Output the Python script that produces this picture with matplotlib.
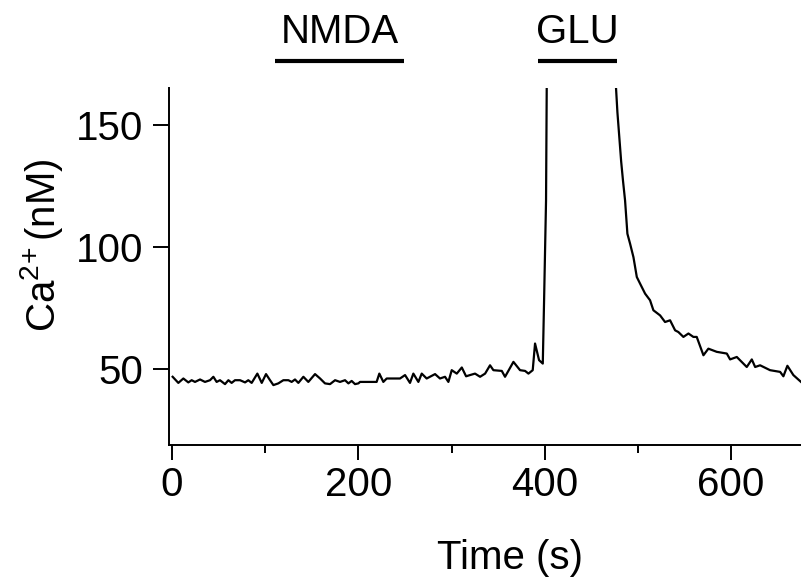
# Ca2+ trace with NMDA and glutamate applications

import matplotlib.pyplot as plt
from matplotlib.ticker import MultipleLocator

# time (s) and [Ca2+] (nM)
t_base = [0.7, 6.8, 12.2, 17.5, 21.1, 24.7, 30.1, 35.4, 40.8, 44.4, 47.9, 51.5, 56.9, 60.5,
          64.0, 67.6, 73.0, 78.4, 81.9, 85.5, 91.6, 96.3, 100.9, 105.2, 108.8, 114.1, 119.5,
          124.9, 128.4, 132.0, 135.6, 141.0, 146.3, 153.5, 158.9, 164.2, 169.6, 175.0, 180.3,
          185.7, 189.3, 192.8, 196.4, 200.0, 201.8, 219.6, 222.5, 226.8, 230.4, 244.7, 250.1,
          255.4, 259.0, 264.4, 268.0, 273.3, 282.3, 287.6, 293.0, 296.6, 300.2, 305.6, 311.0,
          315.6, 319.8, 325.2, 330.6, 336.0, 341.3, 344.9, 353.9, 357.4, 366.4, 373.5, 378.9,
          382.5, 387.1, 389.6, 393.9, 397.9]
ca_base = [46.9, 44.4, 46.2, 44.6, 45.5, 44.8, 45.8, 44.8, 45.5, 46.9, 44.8, 45.5, 43.9, 45.5,
           44.4, 45.5, 45.5, 44.6, 45.5, 44.4, 48.2, 44.4, 48.0, 45.5, 43.5, 44.2, 45.5,
           45.5, 44.8, 45.8, 44.4, 46.9, 44.8, 48.0, 46.2, 44.2, 43.9, 45.5, 44.8,
           45.5, 44.2, 45.2, 43.9, 44.2, 44.8, 44.8, 48.2, 44.8, 46.2, 46.2, 47.6,
           44.4, 48.2, 44.8, 48.2, 46.2, 48.0, 46.2, 46.9, 44.8, 49.6, 48.2, 50.7,
           47.1, 47.6, 48.2, 46.9, 48.2, 51.6, 49.6, 49.3, 46.9, 53.0, 49.6, 49.3,
           48.2, 49.6, 60.5, 53.7, 52.3]
# rise, off-scale plateau and recovery
t_glu = [399.3, 401.4, 403.0, 440.0, 474.0, 476.5, 478.0, 480.0, 482.0, 484.0, 486.2, 488.7,
         491.6, 495.2, 498.8, 502.3, 507.7, 513.0, 516.6, 523.8, 529.1, 534.5, 539.9, 543.4,
         548.8, 554.2, 559.5, 563.1, 570.3, 575.6, 584.6, 595.4, 598.9, 606.1, 616.8, 622.2,
         625.8, 631.1, 641.8, 652.6, 656.1, 660.4, 666.8, 675.0]
ca_glu = [78.2, 119.0, 220.0, 260.0, 220.0, 165.0, 155.0, 145.0, 135.0, 127.0, 119.0, 105.4,
          101.3, 95.8, 87.7, 85.0, 80.9, 78.2, 74.1, 72.0, 69.3, 70.0, 65.9, 65.2,
          63.2, 64.6, 63.2, 63.2, 55.7, 58.4, 57.1, 56.4, 54.0, 55.0, 50.9, 54.0,
          50.9, 51.6, 49.6, 48.9, 47.1, 51.4, 47.6, 44.8]

time = t_base + t_glu
ca = ca_base + ca_glu

# drug applications
stim_labels = ['NMDA', 'GLU']
stim_start = [110.5, 393.0]
stim_end = [249.0, 478.0]

plt.rcParams['font.family'] = ['Liberation Sans', 'DejaVu Sans']
plt.rcParams['mathtext.fontset'] = 'custom'
plt.rcParams['mathtext.rm'] = 'Liberation Sans'
plt.rcParams['mathtext.default'] = 'regular'

fs = 29

fig = plt.figure(figsize=(8.01, 5.85), dpi=100)
ax = fig.add_axes([0.211, 0.2393, 0.789, 0.6103])

ax.plot(time, ca, color='k', linewidth=1.6)

ax.set_xlim(-3.2, 675)
ax.set_ylim(19, 165)

ax.xaxis.set_major_locator(MultipleLocator(200))
ax.xaxis.set_minor_locator(MultipleLocator(100))
ax.yaxis.set_major_locator(MultipleLocator(50))

for side in ['top', 'right']:
    ax.spines[side].set_visible(False)
for side in ['left', 'bottom']:
    ax.spines[side].set_linewidth(1.4)

ax.tick_params(axis='both', which='major', direction='out', width=1.4, labelsize=fs)
ax.tick_params(axis='x', which='major', length=10.8, pad=4)
ax.tick_params(axis='x', which='minor', direction='out', length=5.8, width=1.4)
ax.tick_params(axis='y', which='major', length=11.5, pad=7)

ax.set_xlabel('Time (s)', fontsize=fs)
ax.set_ylabel(r'Ca$^{2\!+}$(nM)', fontsize=fs)
ax.xaxis.set_label_coords(0.54, -0.262)
ax.yaxis.set_label_coords(-0.165, 0.56)

trans = ax.get_xaxis_transform()
for lab, s, e in zip(stim_labels, stim_start, stim_end):
    ax.plot([s, e], [1.0756, 1.0756], color='k', linewidth=3, solid_capstyle='butt',
            transform=trans, clip_on=False)
    ax.text((s + e) / 2, 1.126, lab, transform=trans, ha='center', va='baseline', fontsize=fs)

plt.savefig('out.png', dpi=100)
